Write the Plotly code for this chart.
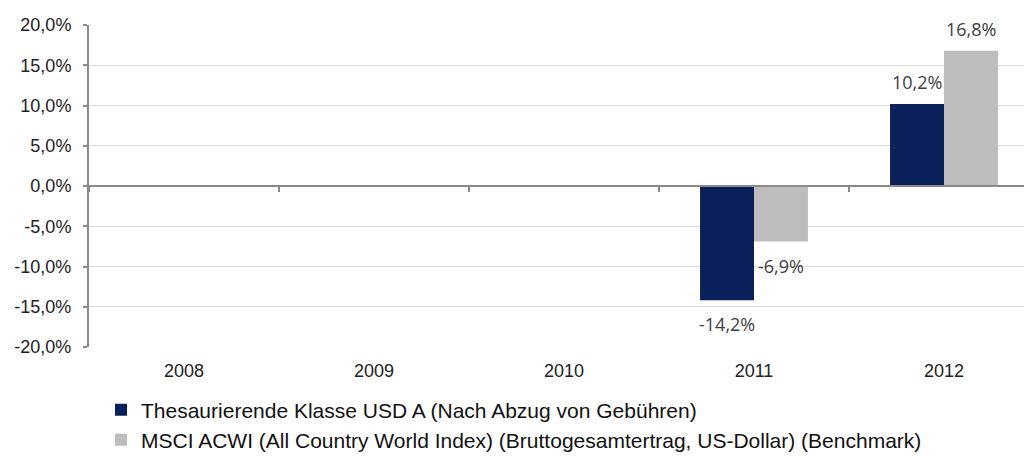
import plotly.graph_objects as go

years = ["2008", "2009", "2010", "2011", "2012"]
fund = [None, None, None, -14.2, 10.2]
bench = [None, None, None, -6.9, 16.8]
fund_name = "Thesaurierende Klasse USD A (Nach Abzug von Gebühren)"
bench_name = "MSCI ACWI (All Country World Index) (Bruttogesamtertrag, US-Dollar) (Benchmark)"
ytick_vals = [-20, -15, -10, -5, 0, 5, 10, 15, 20]
ytick_text = ["-20,0%", "-15,0%", "-10,0%", "-5,0%", "0,0%", "5,0%", "10,0%", "15,0%", "20,0%"]

NAVY = "#0b1f5a"
GRAY = "#bdbdbd"
AXIS = "#8a8a8a"

fig = go.Figure()
fig.add_trace(go.Bar(x=years, y=fund, name=fund_name, marker=dict(color=NAVY, line=dict(width=0)),
                     legend="legend"))
fig.add_trace(go.Bar(x=years, y=bench, name=bench_name, marker=dict(color=GRAY, line=dict(width=0)),
                     legend="legend2"))
# invisible helper trace for zero-line axis with ticks
fig.add_trace(go.Scatter(x=years, y=[0] * len(years), xaxis="x2", mode="markers",
                         marker=dict(opacity=0), showlegend=False, hoverinfo="skip"))

# page body has an 8px margin; figure coordinates are offset accordingly
L, T, B = 81, 17, 110
W = 950
FIG_W = L + W
FIG_H = 449
H = FIG_H - T - B
bargap = 0.432
cat_px = W / len(years)
bar_px = cat_px * (1 - bargap) / 2

def fmt(v):
    return f"{v:.1f}".replace(".", ",") + "%"

for vals, sh in ((fund, -bar_px / 2), (bench, bar_px / 2)):
    for i, v in enumerate(vals):
        if v is None:
            continue
        fig.add_annotation(x=i, y=v, xref="x", yref="y", text=fmt(v), showarrow=False,
                           xshift=sh, yshift=22 if v > 0 else -24, yanchor="middle",
                           font=dict(family="Open Sans", size=18, color="#404040"))

fig.update_layout(
    width=FIG_W, height=FIG_H,
    margin=dict(l=L, r=0, t=T, b=B, autoexpand=False),
    paper_bgcolor="white", plot_bgcolor="white",
    barmode="group", bargap=bargap, bargroupgap=0,
    font=dict(family="Liberation Sans, Arial", color="#222"),
    xaxis=dict(type="category", categoryarray=years, categoryorder="array", range=[-0.5, 4.5],
               showline=False, showgrid=False, zeroline=False, ticks="", automargin=False,
               tickfont=dict(size=18, color="#222"), ticklabelstandoff=11),
    xaxis2=dict(type="category", categoryarray=years, categoryorder="array", range=[-0.5, 4.5],
                overlaying="x", anchor="free", position=0.5, side="bottom", automargin=False,
                showline=True, linecolor=AXIS, linewidth=2,
                ticks="outside", tickson="boundaries", ticklen=5, tickwidth=1.5, tickcolor=AXIS,
                showticklabels=False, showgrid=False, zeroline=False),
    yaxis=dict(range=[-20, 20], tickvals=ytick_vals, ticktext=ytick_text, automargin=False,
               showgrid=True, gridcolor="#dcdcdc", gridwidth=1,
               zeroline=False, showline=True, linecolor=AXIS, linewidth=2,
               ticks="outside", ticklen=4, tickcolor=AXIS, tickwidth=1.5,
               ticklabelstandoff=8,
               tickfont=dict(size=18, color="#222")),
    legend=dict(x=(93 - L) / W, y=-(402 - (FIG_H - B)) / H, xanchor="left", yanchor="middle",
                font=dict(size=21, color="#111"), bgcolor="rgba(0,0,0,0)"),
    legend2=dict(x=(93 - L) / W, y=-(432 - (FIG_H - B)) / H, xanchor="left", yanchor="middle",
                 font=dict(size=21, color="#111"), bgcolor="rgba(0,0,0,0)"),
    showlegend=True,
)

fig.write_html("out.html")
